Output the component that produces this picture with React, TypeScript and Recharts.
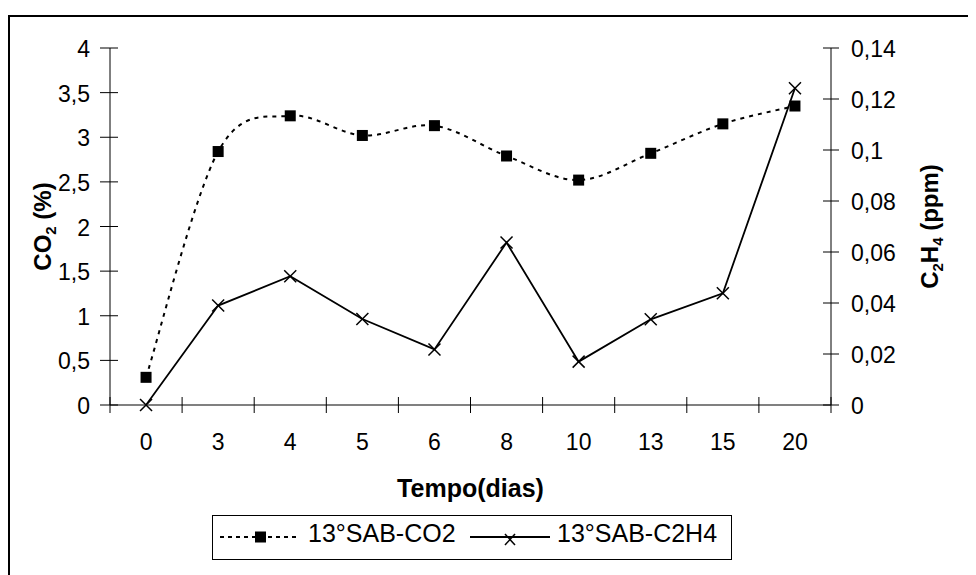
import React from 'react';
import { LineChart, Line, XAxis, YAxis, Legend } from 'recharts';

const days = ['0', '3', '4', '5', '6', '8', '10', '13', '15', '20'];
const co2Values = [0.31, 2.84, 3.24, 3.02, 3.13, 2.79, 2.52, 2.82, 3.15, 3.35];
const c2h4Values = [0, 0.039, 0.0505, 0.0337, 0.0218, 0.0637, 0.017, 0.0336, 0.0438, 0.1242];
const leftTicks = [0, 0.5, 1, 1.5, 2, 2.5, 3, 3.5, 4];
const rightTicks = [0, 0.02, 0.04, 0.06, 0.08, 0.1, 0.12, 0.14];
const seriesNames = ['13°SAB-CO2', '13°SAB-C2H4'];

const data = days.map((d, i) => ({ day: d, co2: co2Values[i], c2h4: c2h4Values[i] }));

const FONT = '"Liberation Sans", Arial, sans-serif';

const fmt = (v: number) => {
  const s = parseFloat(v.toFixed(3)).toString();
  return s.replace('.', ',');
};

// Excel-like smoothed line (Catmull-Rom bezier)
const smoothCurve = (context: any) => {
  let pts: number[][] = [];
  return {
    areaStart() {},
    areaEnd() {},
    lineStart() {
      pts = [];
    },
    point(x: number, y: number) {
      pts.push([+x, +y]);
    },
    lineEnd() {
      const n = pts.length;
      if (!n) return;
      context.moveTo(pts[0][0], pts[0][1]);
      for (let i = 0; i < n - 1; i++) {
        const p0 = pts[Math.max(i - 1, 0)];
        const p1 = pts[i];
        const p2 = pts[i + 1];
        const p3 = pts[Math.min(i + 2, n - 1)];
        context.bezierCurveTo(
          p1[0] + (p2[0] - p0[0]) / 6,
          p1[1] + (p2[1] - p0[1]) / 6,
          p2[0] - (p3[0] - p1[0]) / 6,
          p2[1] - (p3[1] - p1[1]) / 6,
          p2[0],
          p2[1]
        );
      }
    },
  };
};

const XTick = (props: any) => {
  const { x, y, payload, index } = props;
  const off = payload && payload.offset ? payload.offset : 0;
  return (
    <g>
      <line x1={x - off} x2={x - off} y1={y - 8} y2={y + 8} stroke="#000" strokeWidth={1} />
      {index === days.length - 1 && (
        <line x1={x + off} x2={x + off} y1={y - 8} y2={y + 8} stroke="#000" strokeWidth={1} />
      )}
      <text x={x} y={y + 45} textAnchor="middle" fontSize={23} fontFamily={FONT} fill="#000">
        {payload.value}
      </text>
    </g>
  );
};

const LeftTick = (props: any) => {
  const { x, y, payload } = props;
  return (
    <g>
      <line x1={x} x2={x + 18} y1={y} y2={y} stroke="#000" strokeWidth={1} />
      <text x={x - 10} y={y + 9} textAnchor="end" fontSize={23} fontFamily={FONT} fill="#000">
        {fmt(payload.value)}
      </text>
    </g>
  );
};

const RightTick = (props: any) => {
  const { x, y, payload } = props;
  return (
    <g>
      <line x1={x - 16} x2={x} y1={y} y2={y} stroke="#000" strokeWidth={1} />
      <text x={x + 12} y={y + 9} textAnchor="start" fontSize={23} fontFamily={FONT} fill="#000">
        {fmt(payload.value)}
      </text>
    </g>
  );
};

const SquareDot = (props: any) => {
  const { cx, cy, index } = props;
  if (cx == null || cy == null) return <g key={`s${index}`} />;
  return <rect key={`s${index}`} x={cx - 5.5} y={cy - 5.5} width={11} height={11} fill="#000" />;
};

const CrossDot = (props: any) => {
  const { cx, cy, index } = props;
  if (cx == null || cy == null) return <g key={`c${index}`} />;
  const r = 6;
  return (
    <g key={`c${index}`}>
      <line x1={cx - r} y1={cy - r} x2={cx + r} y2={cy + r} stroke="#000" strokeWidth={1.5} />
      <line x1={cx - r} y1={cy + r} x2={cx + r} y2={cy - r} stroke="#000" strokeWidth={1.5} />
    </g>
  );
};

const LeftTitle = (props: any) => {
  const vb = props.viewBox || { x: 0, y: 31, width: 100, height: 357 };
  const cx = vb.x + 33;
  const cy = vb.y + vb.height / 2;
  return (
    <text
      x={cx}
      y={cy}
      transform={`rotate(-90, ${cx}, ${cy})`}
      textAnchor="middle"
      dy={8}
      fontSize={24}
      fontWeight="bold"
      fontFamily={FONT}
      fill="#000"
    >
      CO
      <tspan fontSize={15} dy={5}>2</tspan>
      <tspan dy={-5}> (%)</tspan>
    </text>
  );
};

const RightTitle = (props: any) => {
  const vb = props.viewBox || { x: 821, y: 31, width: 145, height: 357 };
  const cx = vb.x + 99;
  const cy = vb.y + vb.height / 2;
  return (
    <text
      x={cx}
      y={cy}
      transform={`rotate(-90, ${cx}, ${cy})`}
      textAnchor="middle"
      dy={8}
      fontSize={24}
      fontWeight="bold"
      fontFamily={FONT}
      fill="#000"
    >
      C
      <tspan fontSize={15} dy={5}>2</tspan>
      <tspan dy={-5}>H</tspan>
      <tspan fontSize={15} dy={5}>4</tspan>
      <tspan dy={-5}> (ppm)</tspan>
    </text>
  );
};

const XTitle = (props: any) => {
  const vb = props.viewBox || { x: 100, y: 388, width: 721, height: 170 };
  return (
    <text
      x={vb.x + vb.width / 2}
      y={vb.y + 92}
      textAnchor="middle"
      fontSize={25}
      fontWeight="bold"
      fontFamily={FONT}
      fill="#000"
    >
      Tempo(dias)
    </text>
  );
};

const LegendBox = (props: any) => {
  const payload: any[] = props.payload || [];
  const find = (key: string, fallback: string) => {
    const e = payload.find((p) => p && p.dataKey === key);
    return (e && e.value) || fallback;
  };
  const n1 = find('co2', seriesNames[0]);
  const n2 = find('c2h4', seriesNames[1]);
  return (
    <svg width={520} height={45} style={{ display: 'block' }}>
      <rect x={0.5} y={0.5} width={519} height={44} fill="#fff" stroke="#000" strokeWidth={1} />
      <line x1={8} x2={86} y1={22} y2={22} stroke="#000" strokeWidth={2} strokeDasharray="4 4" />
      <rect x={43} y={16.5} width={11} height={11} fill="#000" />
      <text x={96} y={27} fontSize={25} fontFamily={FONT} fill="#000">{n1}</text>
      <line x1={258} x2={338} y1={22} y2={22} stroke="#000" strokeWidth={2} />
      <line x1={293} y1={19} x2={303} y2={30} stroke="#000" strokeWidth={1.5} />
      <line x1={293} y1={30} x2={303} y2={19} stroke="#000" strokeWidth={1.5} />
      <text x={345} y={27} fontSize={25} fontFamily={FONT} fill="#000">{n2}</text>
    </svg>
  );
};

export default function App() {
  return (
    <div
      style={{
        marginTop: 7,
        width: 966,
        height: 558,
        borderTop: '2px solid #000',
        borderLeft: '2px solid #000',
        background: '#fff',
        fontFamily: FONT,
      }}
    >
      <LineChart width={966} height={558} data={data} margin={{ top: 31, right: 0, bottom: 0, left: 0 }}>
        <XAxis
          dataKey="day"
          xAxisId={0}
          scale="band"
          height={170}
          interval={0}
          tickSize={0}
          tickMargin={0}
          tickLine={false}
          axisLine={{ stroke: '#808080', strokeWidth: 2 }}
          tick={<XTick />}
          label={<XTitle />}
        />
        <YAxis
          yAxisId="left"
          orientation="left"
          width={100}
          domain={[0, 4]}
          ticks={leftTicks}
          interval={0}
          tickSize={10}
          tickMargin={0}
          tickLine={false}
          axisLine={{ stroke: '#000', strokeWidth: 1 }}
          tick={<LeftTick />}
          label={<LeftTitle />}
        />
        <YAxis
          yAxisId="right"
          orientation="right"
          width={145}
          domain={[0, 0.14]}
          ticks={rightTicks}
          interval={0}
          tickSize={8}
          tickMargin={0}
          tickLine={false}
          axisLine={{ stroke: '#000', strokeWidth: 1 }}
          tick={<RightTick />}
          label={<RightTitle />}
        />
        <Legend
          layout="horizontal"
          verticalAlign="middle"
          align="center"
          wrapperStyle={{ position: 'absolute', left: 202, top: 498, width: 520, height: 45 }}
          content={<LegendBox />}
        />
        <Line
          yAxisId="left"
          dataKey="co2"
          name={seriesNames[0]}
          type={smoothCurve as any}
          stroke="#000"
          strokeWidth={2}
          strokeDasharray="4 5"
          dot={SquareDot}
          activeDot={false}
          isAnimationActive={false}
        />
        <Line
          yAxisId="right"
          dataKey="c2h4"
          name={seriesNames[1]}
          type="linear"
          stroke="#000"
          strokeWidth={1.8}
          dot={CrossDot}
          activeDot={false}
          isAnimationActive={false}
        />
      </LineChart>
    </div>
  );
}
